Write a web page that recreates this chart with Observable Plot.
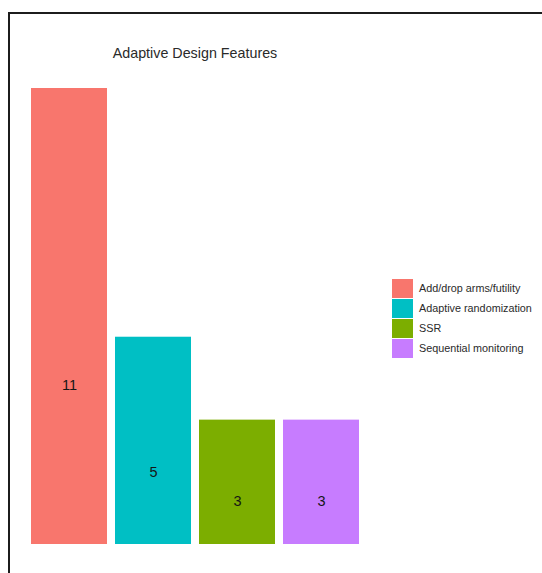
<!DOCTYPE html>
<html>
<head>
<meta charset="utf-8">
<script src="https://cdn.jsdelivr.net/npm/d3@7"></script>
<script src="https://cdn.jsdelivr.net/npm/@observablehq/plot@0.6"></script>
<style>
  html, body { margin: 0; padding: 0; background: #fff; }
  body { width: 542px; height: 573px; position: relative; overflow: hidden; font-family: "Liberation Sans", Arial, sans-serif; }
  #frame { position: absolute; left: 8px; top: 12px; width: 540px; height: 570px; border-top: 2px solid #1c1c1c; border-left: 2px solid #1c1c1c; box-sizing: border-box; }
  #title { position: absolute; top: 45px; left: 95px; width: 200px; text-align: center; font-size: 14.3px; color: #2a2a2a; }
  #chart { position: absolute; left: 0; top: 0; }
  #legend { position: absolute; left: 392px; top: 278px; font-size: 10.8px; color: #2a2a2a; }
  .row { display: flex; align-items: center; height: 20px; }
  .sw { width: 21px; height: 19px; margin-right: 6px; }
</style>
</head>
<body>
<div id="frame"></div>
<div id="chart"></div>
<div id="title">Adaptive Design Features</div>
<div id="legend"></div>
<script>
const categories = ["Add/drop arms/futility", "Adaptive randomization", "SSR", "Sequential monitoring"];
const counts = [11, 5, 3, 3];
const colors = ["#F8766D", "#00BFC4", "#7CAE00", "#C77CFF"];

const data = categories.map((c, i) => ({feature: c, n: counts[i], labelY: counts[i] * 0.35}));

const plot = Plot.plot({
  width: 400,
  height: 573,
  marginTop: 88,
  marginBottom: 29,
  marginLeft: 21.5,
  marginRight: 31.3,
  x: {domain: categories, padding: 0.1, axis: null},
  y: {domain: [0, 11], axis: null},
  color: {domain: categories, range: colors},
  style: {background: "transparent", fontFamily: "Liberation Sans, Arial, sans-serif"},
  marks: [
    Plot.barY(data, {x: "feature", y: "n", fill: "feature"}),
    Plot.text(data, {x: "feature", y: "labelY", text: d => String(d.n), fontSize: 14.5, fill: "#151515"})
  ]
});
document.getElementById("chart").appendChild(plot);

const legend = document.getElementById("legend");
categories.forEach((c, i) => {
  const row = document.createElement("div");
  row.className = "row";
  const sw = document.createElement("div");
  sw.className = "sw";
  sw.style.background = colors[i];
  const lab = document.createElement("span");
  lab.textContent = c;
  row.appendChild(sw);
  row.appendChild(lab);
  legend.appendChild(row);
});
</script>
</body>
</html>
